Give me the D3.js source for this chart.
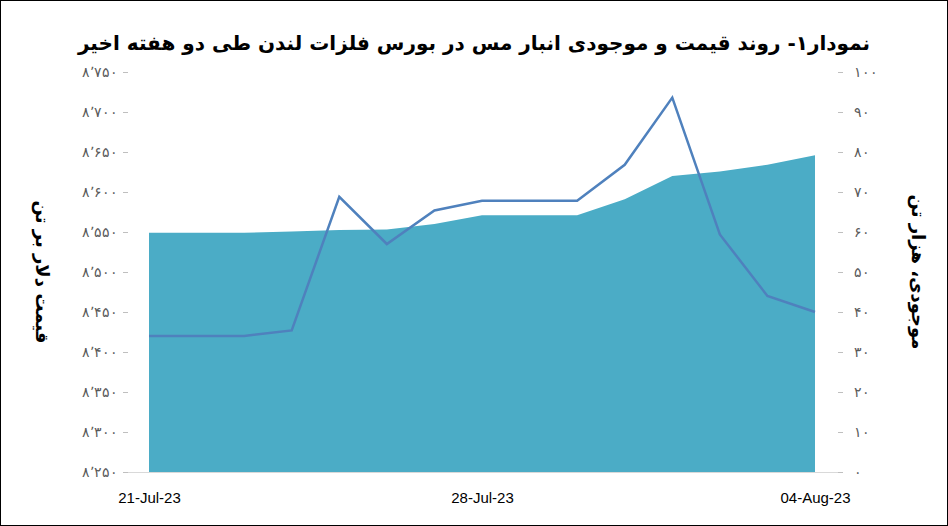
<!DOCTYPE html>
<html><head><meta charset="utf-8">
<script src="https://cdn.jsdelivr.net/npm/d3@7"></script>
<style>body{margin:0;background:#fff}</style>
</head><body>
<svg id="c" width="948" height="526"></svg>
<script>
// daily data, 21 Jul - 4 Aug 2023
const dates = ['2023-07-21','2023-07-22','2023-07-23','2023-07-24','2023-07-25','2023-07-26','2023-07-27','2023-07-28','2023-07-29','2023-07-30','2023-07-31','2023-08-01','2023-08-02','2023-08-03','2023-08-04'];
const price = [8420,8420,8420,8427,8594,8535,8577,8589,8589,8589,8634,8718,8547,8470,8450];
const stock = [59.8,59.8,59.8,60.1,60.5,60.6,62.0,64.2,64.2,64.2,68.2,74.0,75.1,76.8,79.2];
const leftTicks = [8250,8300,8350,8400,8450,8500,8550,8600,8650,8700,8750];
const rightTicks = [0,10,20,30,40,50,60,70,80,90,100];
const xLabels = ['2023-07-21','2023-07-28','2023-08-04'];

const svg = d3.select('#c');
const fa = d => String(d).replace(/\d/g, c => '۰۱۲۳۴۵۶۷۸۹'[c]);
const faNum = v => fa(d3.format(',')(v)).replace(/,/g, '٬');
const parse = d3.timeParse('%Y-%m-%d');

svg.append('rect').attr('x',0.5).attr('y',0.5).attr('width',947).attr('height',525)
  .attr('fill','#fff').attr('stroke','#000');

const x = d3.scaleTime().domain([parse(dates[0]), parse(dates[dates.length-1])]).range([149,815]);
const yL = d3.scaleLinear().domain([8250,8750]).range([472,72]);
const yR = d3.scaleLinear().domain([0,100]).range([472,72]);

svg.append('path').datum(dates.map((d,i)=>[parse(d),stock[i]]))
  .attr('fill','#4BACC6')
  .attr('d', d3.area().x(d=>x(d[0])).y0(yR(0)).y1(d=>yR(d[1])));

svg.append('path').datum(dates.map((d,i)=>[parse(d),price[i]]))
  .attr('fill','none').attr('stroke','#4F81BD').attr('stroke-width',2.5)
  .attr('d', d3.line().x(d=>x(d[0])).y(d=>yL(d[1])));

// bottom axis line
svg.append('line').attr('x1',128).attr('x2',838).attr('y1',472.5).attr('y2',472.5).attr('stroke','#d9d9d9');

const gl = svg.append('g').attr('transform','translate(128,0)')
  .call(d3.axisLeft(yL).tickValues(leftTicks).tickSize(5).tickFormat(faNum));
const gr = svg.append('g').attr('transform','translate(838,0)')
  .call(d3.axisRight(yR).tickValues(rightTicks).tickSize(5).tickFormat(fa));
[gl,gr].forEach(g=>{
  g.select('.domain').remove();
  g.selectAll('line').attr('stroke','#bfbfbf');
  g.selectAll('text').attr('font-family','Liberation Sans, Arial').attr('font-size',14).attr('fill','#595959');
});
gl.selectAll('text').attr('x',-10);
gr.selectAll('text').attr('x',16);

const gx = svg.append('g').attr('transform','translate(0,472)')
  .call(d3.axisBottom(x).tickValues(xLabels.map(parse)).tickSize(0).tickFormat(d3.timeFormat('%d-%b-%y')));
gx.select('.domain').remove();
gx.selectAll('text').attr('dy',28).attr('font-family','Liberation Sans, Arial').attr('font-size',15).attr('fill','#000');

svg.append('text').attr('x',474).attr('y',50).attr('text-anchor','middle')
  .attr('font-family','DejaVu Sans, Noto Sans').attr('font-weight','bold').attr('font-size',20).attr('direction','rtl')
  .text('نمودار۱- روند قیمت و موجودی انبار مس در بورس فلزات لندن طی دو هفته اخیر');
svg.append('text').attr('transform','translate(36,272) rotate(90)').attr('text-anchor','middle')
  .attr('font-family','DejaVu Sans').attr('font-weight','bold').attr('font-size',18).attr('direction','rtl')
  .text('قیمت دلار بر تن');
svg.append('text').attr('transform','translate(912,272) rotate(90)').attr('text-anchor','middle')
  .attr('font-family','DejaVu Sans').attr('font-weight','bold').attr('font-size',18).attr('direction','rtl')
  .text('موجودی، هزار تن');
</script>
</body></html>
